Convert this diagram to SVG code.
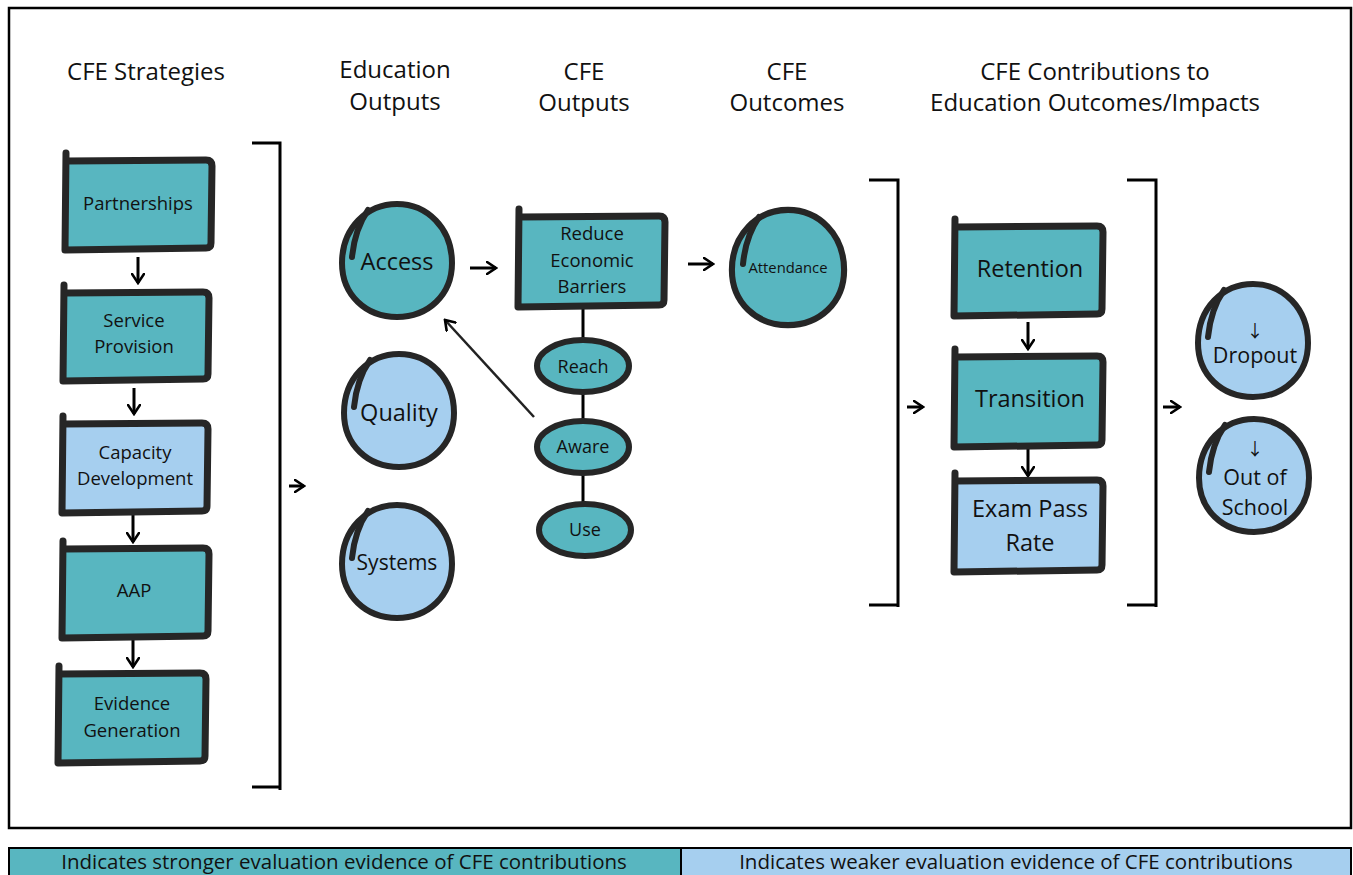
<svg xmlns="http://www.w3.org/2000/svg" xmlns:xlink="http://www.w3.org/1999/xlink" width="1353" height="875" viewBox="0 0 1353 875">
  <defs>
    <style>
      .frame{fill:none;stroke:#000;stroke-width:2.5}
      .teal{fill:#58b6c0}
      .blue{fill:#a6cfef}
      .ink{stroke:#262626;stroke-width:7;stroke-linejoin:round;stroke-linecap:round}
      .ring{stroke:#262626;stroke-width:6;stroke-linejoin:round}
      .flick{fill:none;stroke:#262626;stroke-width:6;stroke-linecap:round}
      .bracket{fill:none;stroke:#000;stroke-width:3}
      .link{fill:none;stroke:#000;stroke-width:3}
      .arrow{fill:none;stroke:#000;stroke-width:3;marker-end:url(#chev)}
      .thin{fill:none;stroke:#222;stroke-width:2.5;marker-end:url(#chev)}
      text{font-family:"Open Sans","Noto Sans","DejaVu Sans",sans-serif;fill:#111;text-anchor:middle}
      .head{font-size:24px}
      .lbl{font-size:18.5px}
      .big{font-size:23.5px}
      .legend{font-size:20.5px}
      .down{font-family:"Noto Sans CJK SC","DejaVu Sans",sans-serif;font-size:17px}
    </style>
    <marker id="chev" viewBox="0 0 12 14" refX="10" refY="7" markerWidth="12" markerHeight="14" markerUnits="userSpaceOnUse" orient="auto">
      <path d="M1,1 L10,7 L1,13" fill="none" stroke="#000" stroke-width="2.6" stroke-linecap="round" stroke-linejoin="miter"/>
    </marker>
    <!-- hand-drawn egg outline, centred on 0,0 -->
    <path id="egg" d="M0,-57 C30,-57 55,-33 55,2 C55,34 31,56 0,56 C-31,56 -55,34 -55,2 C-55,-33 -30,-57 0,-57 Z"/>
    <path id="eggFlick" d="M-45,-4 C-43,-24 -38,-38 -29,-51"/>
  </defs>

  <rect width="1353" height="875" fill="#fff"/>
  <rect class="frame" x="9" y="8" width="1342" height="820"/>

  <!-- column headings -->
  <g id="headings" class="head">
    <text class="head" x="146" y="80">CFE Strategies</text>
    <text class="head" x="395" y="78">Education</text>
    <text class="head" x="395" y="110">Outputs</text>
    <text class="head" x="584" y="80">CFE</text>
    <text class="head" x="584" y="111">Outputs</text>
    <text class="head" x="787" y="80">CFE</text>
    <text class="head" x="787" y="111">Outcomes</text>
    <text class="head" x="1095" y="80">CFE Contributions to</text>
    <text class="head" x="1095" y="111">Education Outcomes/Impacts</text>
  </g>

  <!-- connectors -->
  <g id="connectors">
    <!-- brackets -->
    <path class="bracket" d="M252,143 H280 V790 M252,787 H280"/>
    <path class="bracket" d="M869,180 H898 V607 M869,605 H898"/>
    <path class="bracket" d="M1127,180 H1156 V607 M1127,605 H1156"/>
    <!-- strategy chain -->
    <line class="arrow" x1="138" y1="257" x2="138" y2="283"/>
    <line class="arrow" x1="134" y1="388" x2="134" y2="414"/>
    <line class="arrow" x1="133" y1="515" x2="133" y2="542"/>
    <line class="arrow" x1="133" y1="640" x2="133" y2="667"/>
    <!-- column transitions -->
    <line class="arrow" x1="289" y1="486" x2="304" y2="486"/>
    <line class="arrow" x1="470" y1="268" x2="496" y2="268"/>
    <line class="arrow" x1="688" y1="264" x2="713" y2="264"/>
    <line class="arrow" x1="907" y1="407" x2="923" y2="407"/>
    <line class="arrow" x1="1163" y1="407" x2="1180" y2="407"/>
    <!-- outcome chain -->
    <line class="arrow" x1="1028" y1="322" x2="1028" y2="349"/>
    <line class="arrow" x1="1028" y1="449" x2="1028" y2="476"/>
    <!-- reach / aware / use spine -->
    <line class="link" x1="583" y1="306" x2="583" y2="505"/>
    <!-- awareness feeds back into access -->
    <line class="thin" x1="534" y1="417" x2="445" y2="320"/>
  </g>

  <!-- CFE strategies -->
  <g id="partnerships">
    <path class="teal ink" d="M66,153 L65,250 L206,248 Q211,248 211,243 L212,166 Q212,160 206,160 L67,161"/>
    <text class="lbl" x="138" y="210">Partnerships</text>
  </g>
  <g id="service-provision">
    <path class="teal ink" d="M64,285 L63,381 L203,379 Q208,379 208,374 L209,298 Q209,292 203,292 L65,293"/>
    <text class="lbl" x="134" y="327">Service</text>
    <text class="lbl" x="134" y="353">Provision</text>
  </g>
  <g id="capacity-development">
    <path class="blue ink" d="M63,416 L62,513 L202,511 Q207,511 207,506 L208,429 Q208,423 202,423 L64,424"/>
    <text class="lbl" x="135" y="459">Capacity</text>
    <text class="lbl" x="135" y="485">Development</text>
  </g>
  <g id="aap">
    <path class="teal ink" d="M63,541 L62,638 L203,636 Q208,636 208,631 L209,554 Q209,548 203,548 L64,549"/>
    <text class="lbl" x="134" y="597">AAP</text>
  </g>
  <g id="evidence-generation">
    <path class="teal ink" d="M59,666 L58,763 L200,761 Q205,761 205,756 L206,679 Q206,673 200,673 L60,674"/>
    <text class="lbl" x="132" y="710">Evidence</text>
    <text class="lbl" x="132" y="737">Generation</text>
  </g>

  <!-- education outputs -->
  <g id="access">
    <use xlink:href="#egg" href="#egg" class="teal ring" transform="translate(397,261)"/>
    <use xlink:href="#eggFlick" href="#eggFlick" class="flick" transform="translate(397,261)"/>
    <text class="big" x="397" y="270">Access</text>
  </g>
  <g id="quality">
    <use xlink:href="#egg" href="#egg" class="blue ring" transform="translate(399,411)"/>
    <use xlink:href="#eggFlick" href="#eggFlick" class="flick" transform="translate(399,411)"/>
    <text class="big" x="399" y="421">Quality</text>
  </g>
  <g id="systems">
    <use xlink:href="#egg" href="#egg" class="blue ring" transform="translate(397,562)"/>
    <use xlink:href="#eggFlick" href="#eggFlick" class="flick" transform="translate(397,562)"/>
    <text x="397" y="570" style="font-size:21px">Systems</text>
  </g>

  <!-- CFE outputs -->
  <g id="reduce-economic-barriers">
    <path class="teal ink" d="M519,209 L518,307 L659,305 Q664,305 664,300 L665,222 Q665,216 659,216 L520,217"/>
    <text class="lbl" x="592" y="240">Reduce</text>
    <text class="lbl" x="592" y="267">Economic</text>
    <text class="lbl" x="592" y="293">Barriers</text>
  </g>
  <g id="reach">
    <ellipse class="teal ring" cx="583" cy="366" rx="46" ry="26"/>
    <text x="583" y="373" style="font-size:18px">Reach</text>
  </g>
  <g id="aware">
    <ellipse class="teal ring" cx="583" cy="447" rx="46" ry="26"/>
    <text x="583" y="453" style="font-size:18px">Aware</text>
  </g>
  <g id="use">
    <ellipse class="teal ring" cx="585" cy="530" rx="46" ry="26"/>
    <text x="585" y="536" style="font-size:18px">Use</text>
  </g>

  <!-- CFE outcomes -->
  <g id="attendance">
    <use xlink:href="#egg" href="#egg" class="teal ring" transform="translate(788,268) scale(1.02,1.02)"/>
    <use xlink:href="#eggFlick" href="#eggFlick" class="flick" transform="translate(788,268)"/>
    <text x="788" y="273" style="font-size:14.8px">Attendance</text>
  </g>

  <!-- contributions to education outcomes -->
  <g id="retention">
    <path class="teal ink" d="M955,219 L954,316 L1097,314 Q1102,314 1102,309 L1103,232 Q1103,226 1097,226 L956,227"/>
    <text class="big" x="1030" y="277">Retention</text>
  </g>
  <g id="transition">
    <path class="teal ink" d="M955,349 L954,447 L1097,445 Q1102,445 1102,440 L1103,362 Q1103,356 1097,356 L956,357"/>
    <text class="big" x="1030" y="407">Transition</text>
  </g>
  <g id="exam-pass-rate">
    <path class="blue ink" d="M955,473 L954,572 L1097,570 Q1102,570 1102,565 L1103,486 Q1103,480 1097,480 L956,481"/>
    <text class="big" x="1030" y="517">Exam Pass</text>
    <text class="big" x="1030" y="551">Rate</text>
  </g>

  <!-- impacts -->
  <g id="dropout">
    <use xlink:href="#egg" href="#egg" class="blue ring" transform="translate(1253,341)"/>
    <use xlink:href="#eggFlick" href="#eggFlick" class="flick" transform="translate(1253,341)"/>
    <text class="down" x="1255" y="337">↓</text>
    <text x="1255" y="363" style="font-size:21.5px">Dropout</text>
  </g>
  <g id="out-of-school">
    <use xlink:href="#egg" href="#egg" class="blue ring" transform="translate(1254,476)"/>
    <use xlink:href="#eggFlick" href="#eggFlick" class="flick" transform="translate(1254,476)"/>
    <text class="down" x="1255" y="455">↓</text>
    <text x="1255" y="485" style="font-size:21.5px">Out of</text>
    <text x="1255" y="515" style="font-size:21.5px">School</text>
  </g>

  <!-- legend -->
  <g id="legend">
    <rect x="9" y="848" width="672" height="30" class="teal" stroke="#000" stroke-width="2"/>
    <rect x="681" y="848" width="670" height="30" class="blue" stroke="#000" stroke-width="2"/>
    <text class="legend" x="344" y="869">Indicates stronger evaluation evidence of CFE contributions</text>
    <text class="legend" x="1016" y="869">Indicates weaker evaluation evidence of CFE contributions</text>
  </g>
</svg>
